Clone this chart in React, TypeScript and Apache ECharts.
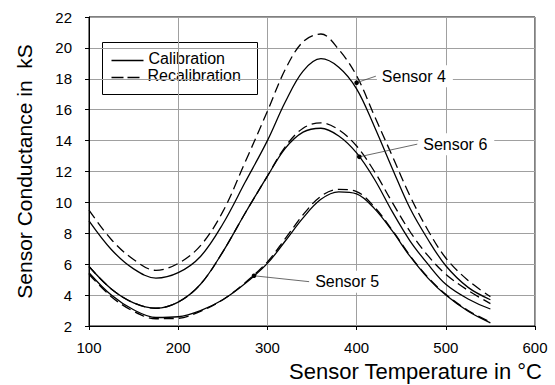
import React, { useEffect, useRef } from "react";
import * as echarts from "echarts";

const temps = [100, 125, 150, 175, 200, 225, 250, 275, 300, 320, 340, 360, 380, 400, 420, 440, 460, 480, 500, 525, 550];

const sensor4Cal = [8.8, 6.95, 5.7, 5.1, 5.45, 6.5, 8.6, 11.3, 14.0, 16.5, 18.5, 19.3, 18.75, 17.35, 14.9, 12.2, 9.6, 7.6, 5.9, 4.5, 3.7];
const sensor4Recal = [9.5, 7.6, 6.3, 5.6, 6.05, 7.2, 9.4, 12.6, 15.9, 18.6, 20.4, 20.9, 19.9, 18.2, 15.6, 13.0, 10.4, 8.2, 6.4, 4.95, 3.9];
const sensor6Cal = [5.85, 4.4, 3.5, 3.15, 3.55, 4.7, 6.8, 9.3, 11.7, 13.5, 14.55, 14.8, 14.3, 13.2, 11.5, 9.4, 7.5, 6.0, 4.7, 3.75, 3.1];
const sensor6Recal = [5.85, 4.4, 3.5, 3.15, 3.55, 4.7, 6.8, 9.3, 11.7, 13.6, 14.8, 15.15, 14.7, 13.65, 12.0, 10.0, 8.1, 6.55, 5.35, 4.3, 3.45];
const sensor5Cal = [5.45, 4.0, 3.05, 2.55, 2.6, 3.0, 3.7, 4.75, 6.05, 7.5, 9.0, 10.2, 10.68, 10.55, 9.6, 8.15, 6.5, 5.1, 4.0, 2.95, 2.2];
const sensor5Recal = [5.35, 3.9, 2.95, 2.47, 2.5, 2.95, 3.7, 4.8, 6.15, 7.65, 9.2, 10.4, 10.84, 10.7, 9.7, 8.2, 6.55, 5.15, 4.05, 3.0, 2.25];

const annNames = ["Sensor 4", "Sensor 6", "Sensor 5"];
const annDotT = [400, 403, 285];
const annDotC = [17.75, 12.95, 5.25];
const annEndT = [421.6, 468, 346.8];
const annEndC = [18.17, 13.77, 4.87];

const xTicks = [100, 200, 300, 400, 500, 600];
const yTicks = [2, 4, 6, 8, 10, 12, 14, 16, 18, 20, 22];

const FONT = '"Liberation Sans", Arial, sans-serif';

function pairs(vals: number[]) {
  return temps.map((t, i) => [t, vals[i]]);
}

export default function App() {
  const ref = useRef<HTMLDivElement>(null);
  useEffect(() => {
    if (!ref.current) return;
    const chart = echarts.init(ref.current, undefined, { renderer: "svg" });
    const solid = { color: "#000", width: 1.3, type: "solid" as const };
    const dashed = { color: "#000", width: 1.3, type: [10, 5] as any };
    const mk = (name: string, vals: number[], ls: any) => ({
      name,
      type: "line",
      data: pairs(vals),
      smooth: 0.35,
      showSymbol: false,
      symbol: "none",
      lineStyle: ls,
      itemStyle: { color: "#000" },
      z: 2,
    });
    chart.setOption({
      animation: false,
      backgroundColor: "#fff",
      grid: { left: 89, right: 20, top: 17, bottom: 59, show: true, borderColor: "#000", borderWidth: 1, backgroundColor: "transparent" },
      xAxis: {
        type: "value",
        min: xTicks[0],
        max: xTicks[xTicks.length - 1],
        interval: 100,
        name: "Sensor Temperature in °C",
        nameLocation: "end",
        nameGap: 7,
        nameTextStyle: { fontFamily: FONT, fontSize: 22, color: "#000", align: "right", verticalAlign: "top", padding: [34, 0, 0, 0] },
        axisLine: { show: true, lineStyle: { color: "#000", width: 1 } },
        axisTick: { show: true, length: 4, inside: false, lineStyle: { color: "#000" } },
        axisLabel: { fontFamily: FONT, fontSize: 15, color: "#000", margin: 14 },
        splitLine: { show: true, lineStyle: { color: "#a0a0a0", width: 1 } },
      },
      yAxis: {
        type: "value",
        min: yTicks[0],
        max: yTicks[yTicks.length - 1],
        interval: 2,
        name: "Sensor Conductance in  kS",
        nameLocation: "middle",
        nameGap: 54,
        nameTextStyle: { fontFamily: FONT, fontSize: 21, color: "#000" },
        axisLine: { show: true, lineStyle: { color: "#000", width: 1 } },
        axisTick: { show: true, length: 4, inside: false, lineStyle: { color: "#000" } },
        axisLabel: { fontFamily: FONT, fontSize: 15, color: "#000", margin: 17 },
        splitLine: { show: true, lineStyle: { color: "#a0a0a0", width: 1 } },
      },
      series: [
        mk("Sensor 4 Calibration", sensor4Cal, solid),
        mk("Sensor 4 Recalibration", sensor4Recal, dashed),
        mk("Sensor 6 Calibration", sensor6Cal, solid),
        mk("Sensor 6 Recalibration", sensor6Recal, dashed),
        mk("Sensor 5 Calibration", sensor5Cal, solid),
        mk("Sensor 5 Recalibration", sensor5Recal, dashed),
        {
          type: "custom",
          name: "annotations",
          z: 5,
          data: annNames.map((n, i) => [annDotT[i], annDotC[i], annEndT[i], annEndC[i]]),
          renderItem: (params: any, api: any) => {
            const i = params.dataIndex;
            const p = api.coord([api.value(0), api.value(1)]);
            const q = api.coord([api.value(2), api.value(3)]);
            const label = annNames[i];
            const w = 76;
            return {
              type: "group",
              children: [
                { type: "rect", shape: { x: q[0] + 1, y: q[1] - 11, width: w, height: 22 }, style: { fill: "#fff" } },
                { type: "line", shape: { x1: p[0], y1: p[1], x2: q[0], y2: q[1] }, style: { stroke: "#444", lineWidth: 0.8 } },
                { type: "circle", shape: { cx: p[0], cy: p[1], r: 2.3 }, style: { fill: "#000" } },
                {
                  type: "text",
                  x: q[0] + 6,
                  y: q[1],
                  style: { text: label, fill: "#000", fontSize: 16, fontFamily: FONT, align: "left", verticalAlign: "middle" },
                },
              ],
            };
          },
        },
      ],
      graphic: [
        {
          type: "group",
          left: 102,
          top: 42,
          z: 10,
          children: [
            { type: "rect", shape: { x: 0, y: 0, width: 155, height: 52 }, style: { fill: "#fff", stroke: "#000", lineWidth: 1 } },
            { type: "line", shape: { x1: 9, y1: 18, x2: 41, y2: 18 }, style: { stroke: "#000", lineWidth: 1.3 } },
            { type: "line", shape: { x1: 9, y1: 35, x2: 41, y2: 35 }, style: { stroke: "#000", lineWidth: 1.3, lineDash: [12, 4] } },
            { type: "text", x: 46, y: 16, style: { text: "Calibration", fill: "#000", fontSize: 16, fontFamily: FONT, align: "left", verticalAlign: "middle" } },
            { type: "text", x: 45, y: 33, style: { text: "Recalibration", fill: "#000", fontSize: 16, fontFamily: FONT, align: "left", verticalAlign: "middle" } },
          ],
        },
      ],
    });
    return () => chart.dispose();
  }, []);
  return <div ref={ref} style={{ width: 555, height: 385, position: "absolute", left: 0, top: 0 }} />;
}
